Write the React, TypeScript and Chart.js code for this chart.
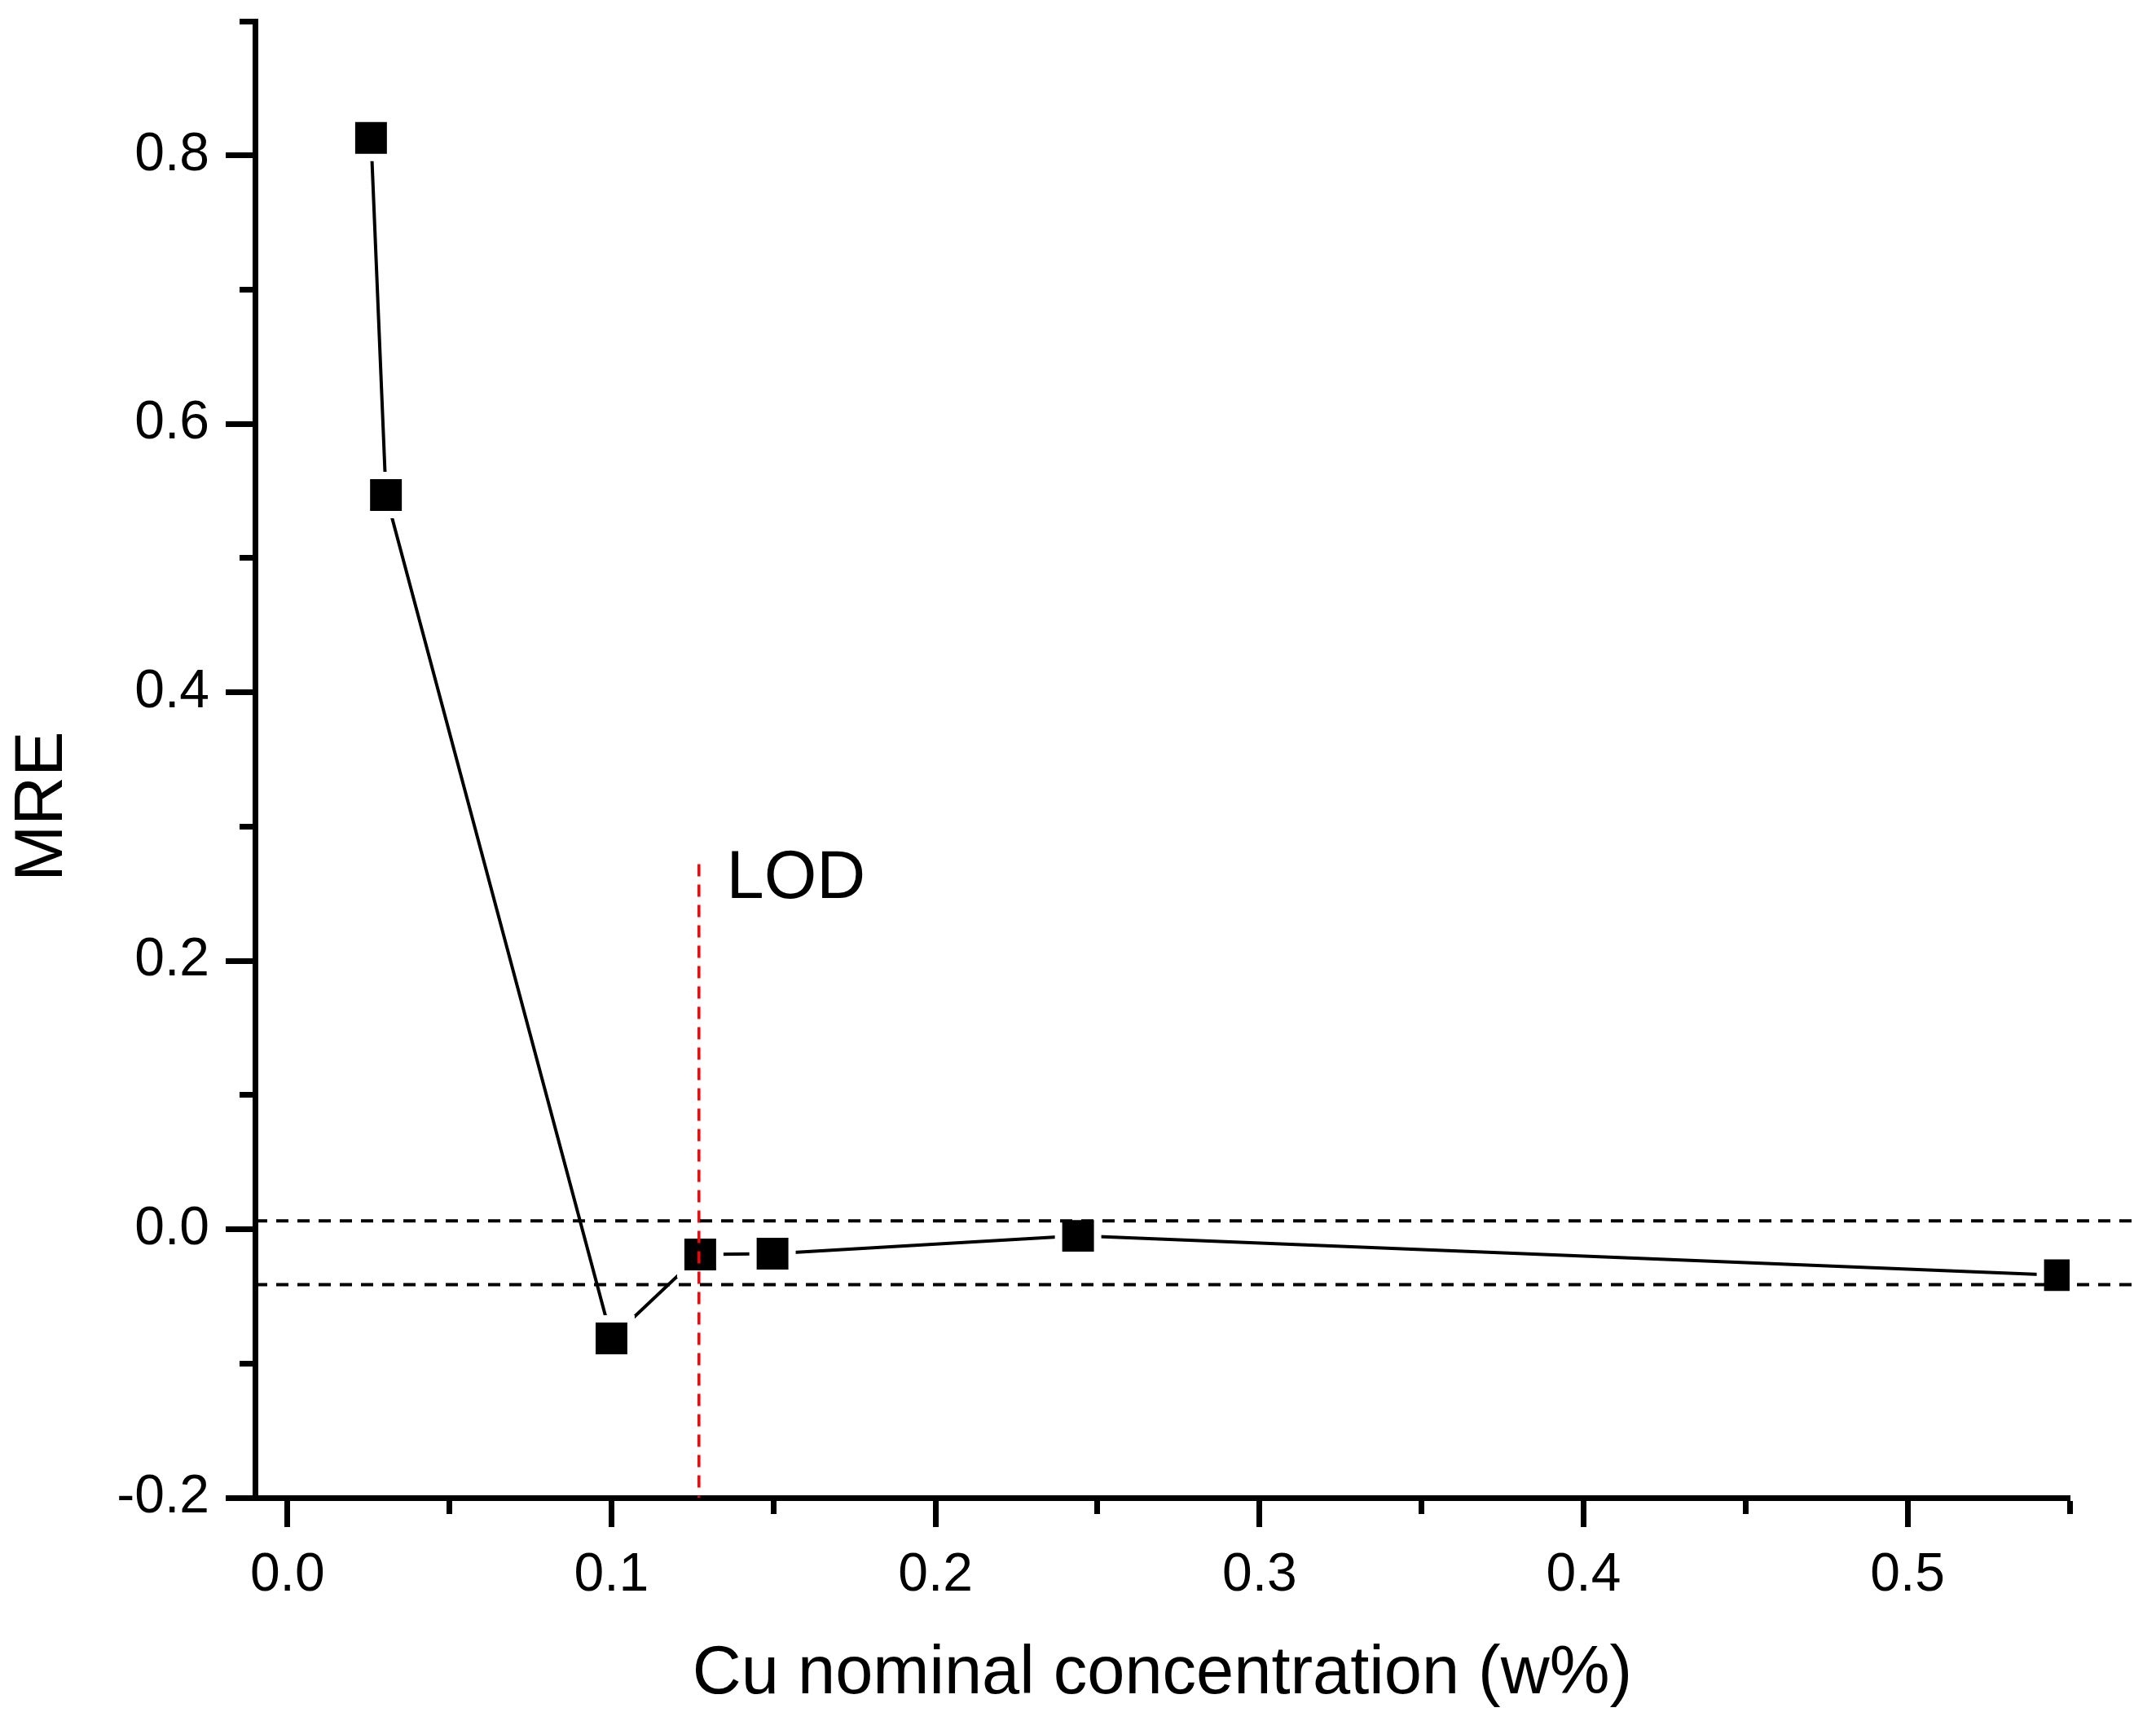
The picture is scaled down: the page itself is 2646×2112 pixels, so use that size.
import { useEffect, useRef } from "react";
import { Chart, registerables } from "chart.js";

Chart.register(...registerables);

// Cu nominal concentration (w%) and the mean relative error
const CONCENTRATION = [0.0258, 0.0304, 0.1, 0.1274, 0.1497, 0.244, 0.547];
const MRE = [0.813, 0.547, -0.0813, -0.0188, -0.0182, -0.0049, -0.0342];

// dashed band and LOD marker
const BAND_UPPER = 0.0063;
const BAND_LOWER = -0.0413;
const BAND_END = 0.57;
const LOD = 0.127;
const LOD_TOP = 0.272;
const LOD_LABEL_X = 0.1355;
const LOD_LABEL_Y = 0.247;

const X_TICKS = [0, 0.05, 0.1, 0.15, 0.2, 0.25, 0.3, 0.35, 0.4, 0.45, 0.5, 0.55];
const X_TICK_LABELS = ["0.0", "", "0.1", "", "0.2", "", "0.3", "", "0.4", "", "0.5", ""];
const Y_TICKS = [-0.2, -0.1, 0, 0.1, 0.2, 0.3, 0.4, 0.5, 0.6, 0.7, 0.8, 0.9];
const Y_TICK_LABELS = ["-0.2", "", "0.0", "", "0.2", "", "0.4", "", "0.6", "", "0.8", ""];

const FONT = "'Liberation Sans', Arial, sans-serif";

const lodLabel = {
  id: "lodLabel",
  afterDatasetsDraw(chart: Chart) {
    const { ctx, scales } = chart;
    ctx.save();
    ctx.fillStyle = "#000";
    ctx.font = `83px ${FONT}`;
    ctx.textBaseline = "alphabetic";
    ctx.textAlign = "left";
    ctx.fillText("LOD", scales.x.getPixelForValue(LOD_LABEL_X), scales.y.getPixelForValue(LOD_LABEL_Y));
    ctx.restore();
  },
};

export default function App() {
  const canvasRef = useRef<HTMLCanvasElement>(null);

  useEffect(() => {
    if (!canvasRef.current) return;

    const chart = new Chart(canvasRef.current, {
      type: "line",
      data: {
        datasets: [
          {
            data: [{ x: -0.01, y: BAND_UPPER }, { x: BAND_END, y: BAND_UPPER }],
            borderColor: "#000",
            borderWidth: 4,
            borderDash: [15, 11],
            pointRadius: 0,
            clip: false,
          },
          {
            data: [{ x: -0.01, y: BAND_LOWER }, { x: BAND_END, y: BAND_LOWER }],
            borderColor: "#000",
            borderWidth: 4,
            borderDash: [15, 11],
            pointRadius: 0,
            clip: false,
          },
          {
            data: [{ x: LOD, y: LOD_TOP }, { x: LOD, y: -0.2 }],
            borderColor: "#ff0000",
            borderWidth: 3.5,
            borderDash: [15, 10],
            pointRadius: 0,
          },
          {
            data: CONCENTRATION.map((c, i) => ({ x: c, y: MRE[i] })),
            borderColor: "#000",
            borderWidth: 4,
            tension: 0,
            pointStyle: "rect",
            pointRadius: 33.9,
            pointBackgroundColor: "#000",
            pointBorderColor: "#fff",
            pointBorderWidth: 9,
          },
        ],
      },
      options: {
        responsive: false,
        animation: false,
        devicePixelRatio: 1,
        events: [],
        layout: { autoPadding: false, padding: { top: 26, right: 106, bottom: 0, left: 0 } },
        plugins: { legend: { display: false }, tooltip: { enabled: false } },
        scales: {
          x: {
            type: "linear",
            min: -0.01,
            max: 0.55,
            afterBuildTicks: (s: any) => {
              s.ticks = X_TICKS.map((v) => ({ value: v }));
            },
            afterFit: (s: any) => {
              s.height = 274;
              s.paddingLeft = 0;
              s.paddingRight = 0;
            },
            ticks: {
              autoSkip: false,
              maxRotation: 0,
              padding: 20,
              color: "#000",
              font: (c: any) => ({ family: FONT, size: c.tick && !X_TICK_LABELS[c.index] ? 1 : 66 }),
              callback: (_v: any, i: number) => X_TICK_LABELS[i],
            },
            grid: {
              drawOnChartArea: false,
              drawTicks: true,
              tickLength: 36,
              tickWidth: 7,
              tickColor: "#000",
              tickBorderDash: (c: any) => (c.tick && !X_TICK_LABELS[c.index] ? [16, 100] : []),
            },
            border: { display: true, color: "#000", width: 7 },
            title: {
              display: true,
              text: "Cu nominal concentration (w%)",
              color: "#000",
              font: { family: FONT, size: 83 },
              padding: { top: 0, bottom: 7 },
            },
          },
          y: {
            type: "linear",
            min: -0.2,
            max: 0.9,
            afterBuildTicks: (s: any) => {
              s.ticks = Y_TICKS.map((v) => ({ value: v }));
            },
            afterFit: (s: any) => {
              s.width = 313;
              s.paddingTop = 0;
              s.paddingBottom = 0;
            },
            ticks: {
              autoSkip: false,
              padding: 20,
              color: "#000",
              font: (c: any) => ({ family: FONT, size: c.tick && !Y_TICK_LABELS[c.index] ? 1 : 66 }),
              callback: (_v: any, i: number) => Y_TICK_LABELS[i],
            },
            grid: {
              drawOnChartArea: false,
              drawTicks: true,
              tickLength: 36,
              tickWidth: 7,
              tickColor: "#000",
              tickBorderDash: (c: any) => (c.tick && !Y_TICK_LABELS[c.index] ? [0, 17, 16, 100] : []),
            },
            border: { display: true, color: "#000", width: 7 },
            title: {
              display: true,
              text: "MRE" + "\u00a0".repeat(5),
              color: "#000",
              font: { family: FONT, size: 83 },
              padding: { top: 3, bottom: 0 },
            },
          },
        },
      },
      plugins: [lodLabel],
    });

    return () => {
      chart.destroy();
    };
  }, []);

  return (
    <div style={{ position: "fixed", left: 0, top: 0, width: 2646, height: 2112, background: "#fff" }}>
      <canvas ref={canvasRef} width={2646} height={2112} style={{ display: "block", width: 2646, height: 2112 }} />
    </div>
  );
}
